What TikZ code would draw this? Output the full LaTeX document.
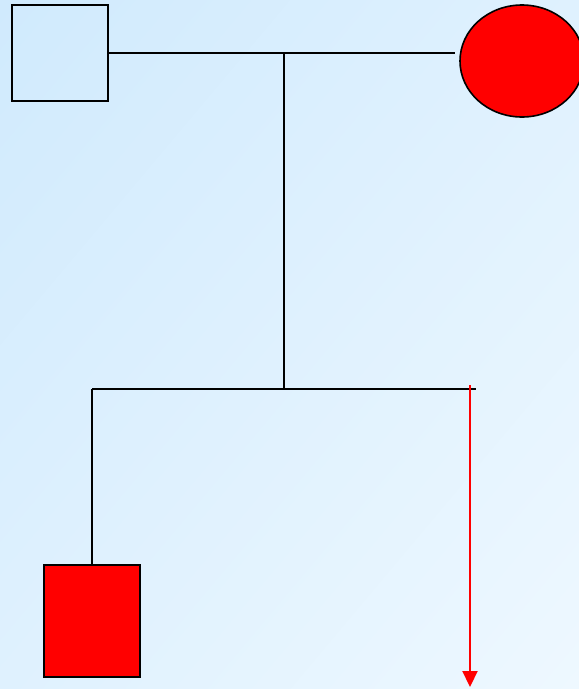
\documentclass[tikz,border=0pt]{standalone}
\usetikzlibrary{shapes.geometric,arrows.meta,shadings}
\definecolor{bgA}{HTML}{D0EAFD}
\definecolor{bgM}{HTML}{DFF1FE}
\definecolor{bgB}{HTML}{EEF8FF}
\definecolor{pred}{HTML}{FF0000}
\tikzset{
  person/.style={draw=black,line width=1.6pt,inner sep=0pt,outer sep=0pt},
  male/.style={person,rectangle},
  female/.style={person,ellipse},
  link/.style={draw=black,line width=1.6pt},
  redarrow/.style={draw=pred,line width=2.2pt,-{Triangle[length=16pt,width=15pt]}}
}
\begin{document}
\begin{tikzpicture}[x=1pt,y=-1pt]
\useasboundingbox (0,0) rectangle (579,689);
\clip (0,0) rectangle (579,689);
\shade[upper left=bgA,upper right=bgM,lower left=bgM,lower right=bgB] (0,0) rectangle (579,689);
\node[male,minimum width=96pt,minimum height=96pt] (father) at (60,53) {};
\node[female,fill=pred,minimum width=124pt,minimum height=112pt] (mother) at (522,61) {};
\node[male,fill=pred,minimum width=96pt,minimum height=112pt] (child) at (92,621) {};
\coordinate (mline) at (455,53);
\coordinate (mid) at (284,53);
\coordinate (sib) at (284,389);
\coordinate (sibL) at (92,389);
\coordinate (sibR) at (476,389);
\coordinate (arrS) at (470,385);
\coordinate (arrE) at (470,687);
\draw[link] (father.east) -- (mline);
\draw[link] (mid) -- (sib);
\draw[link] (sibL) -- (sibR);
\draw[link] (sibL) -- (child.north);
\draw[redarrow] (arrS) -- (arrE);
\end{tikzpicture}
\end{document}
